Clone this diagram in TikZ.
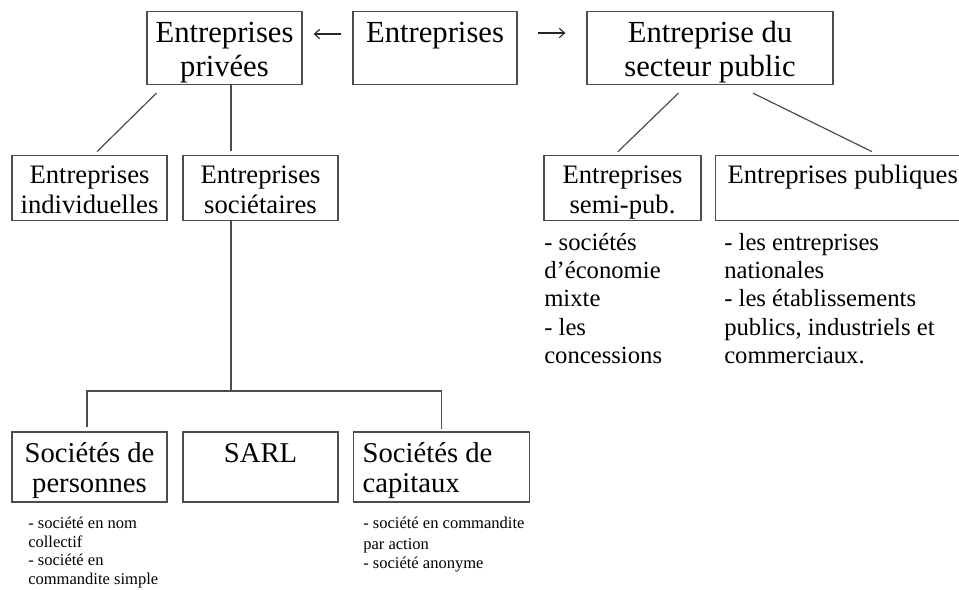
\documentclass[tikz,border=0pt]{standalone}
\usepackage{fontspec}
\setmainfont{Liberation Serif}
\usetikzlibrary{arrows.meta}

\tikzset{
	box/.style={draw=black!70, line width=0.9pt, align=flush center, inner sep=0pt},
	topbox/.style={box, font=\fontsize{23}{25.5}\selectfont, text height=22.9pt, text depth=31.9pt},
	midbox/.style={box, font=\fontsize{20}{22.5}\selectfont, text height=20.6pt, text depth=27.8pt},
	lowbox/.style={box, font=\fontsize{21.5}{22.5}\selectfont, text height=22.5pt, text depth=30pt},
	note/.style={align=left, inner sep=0pt, anchor=north west, font=\fontsize{18.5}{21.2}\selectfont},
	smallnote/.style={note, font=\fontsize{12.4}{13.9}\selectfont},
	link/.style={draw=black!70, line width=0.9pt},
	pointer/.style={draw=black!85, line width=0.8pt, -{Straight Barb[length=4pt,width=7pt]}}
}

\begin{document}
\begin{tikzpicture}[x=0.75pt,y=-0.75pt]
		\useasboundingbox (0,0) rectangle (959,589);
		%top row
		\node[topbox, text width=116.25pt] (priv) at (224.5,48) {Entreprises\\priv\'ees};
		\node[topbox, text width=123pt] (ent) at (435,48) {Entreprises};
		\node[topbox, text width=184.5pt] (pub) at (710,48) {Entreprise du\\secteur public};
		\draw[pointer] ([xshift=-8.25pt,yshift=10.5pt]ent.west) -- ([xshift=8.25pt,yshift=10.5pt]priv.east);
		\draw[pointer] ([xshift=15pt,yshift=11.25pt]ent.east) -- ([xshift=-15.75pt,yshift=11.25pt]pub.west);
		%second row
		\node[midbox, text width=116.25pt] (indiv) at (89.5,188) {Entreprises\\individuelles};
		\node[midbox, text width=116.25pt] (soc) at (260.5,188) {Entreprises\\soci\'etaires};
		\node[midbox, text width=117.75pt] (semi) at (622.5,188) {Entreprises\\semi-pub.};
		\node[midbox, anchor=west, align=flush left, inner xsep=9pt, text width=180pt] (publ) at (715,188) {Entreprises publiques};
		\draw[link] ([xshift=7.5pt,yshift=-6pt]priv.south west) -- ([xshift=5.6pt,yshift=2.6pt]indiv.north);
		\draw[link] ([xshift=4.9pt]priv.south) -- ([xshift=-22.1pt,yshift=3pt]soc.north);
		\draw[link] ([xshift=69pt,yshift=-6pt]pub.south west) -- ([xshift=-3.4pt,yshift=2.6pt]semi.north);
		\draw[link] ([xshift=32.25pt,yshift=-6pt]pub.south) -- ([xshift=117.75pt,yshift=2.6pt]publ.north west);
		\node[note] (semin) at (544,233) {- soci\'et\'es\\d'\'economie\\mixte\\- les\\concessions};
		\node[note] (publn) at (724,233) {- les entreprises\\nationales\\- les \'etablissements\\publics, industriels et\\commerciaux.};
		%third row
		\node[lowbox, text width=116.25pt] (pers) at (89.5,467) {Soci\'et\'es de\\personnes};
		\node[lowbox, text width=116.25pt] (sarl) at (260.5,467) {SARL};
		\node[lowbox, anchor=west, align=flush left, inner xsep=6.75pt, text width=118.5pt] (cap) at (353,467) {Soci\'et\'es de\\capitaux};
		\coordinate (bus) at (231,391);
		\draw[link] (bus |- soc.south) -- (bus);
		\draw[link] ([xshift=-1.9pt,yshift=3pt]pers.north) |- (bus) -| ([yshift=1.5pt]cap.north);
		\node[smallnote] (persn) at (28,517) {- soci\'et\'e en nom\\collectif\\- soci\'et\'e en\\commandite simple};
		\node[smallnote] (capn) at (363,517) {- soci\'et\'e en commandite\\[2pt]par action\\- soci\'et\'e anonyme};
	\end{tikzpicture}
\end{document}
